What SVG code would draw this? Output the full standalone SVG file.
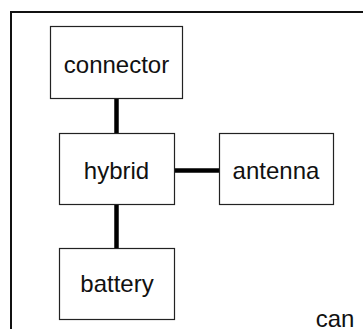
<svg xmlns="http://www.w3.org/2000/svg" width="363" height="329" viewBox="0 0 363 329">
<style>
.box{fill:#fff;stroke:#222;stroke-width:1.2}
.lbl{font-family:"Liberation Sans",Arial,sans-serif;font-size:24px;fill:#111;text-anchor:middle}
.wire{stroke:#000;stroke-width:4.5;fill:none}
</style>
<rect width="363" height="329" fill="#fff"/>
<g id="can">
<rect x="11" y="12" width="400" height="400" fill="none" stroke="#111" stroke-width="2"/>
<text class="lbl" x="335" y="327">can</text>
</g>
<g id="connectors">
<line class="wire" x1="116.5" y1="99" x2="116.5" y2="133"/>
<line class="wire" x1="116.5" y1="204" x2="116.5" y2="248"/>
<line class="wire" x1="175" y1="170.5" x2="219" y2="170.5"/>
</g>
<g id="connector">
<rect class="box" x="50.5" y="26.5" width="132" height="72"/>
<text class="lbl" x="116.5" y="73">connector</text>
</g>
<g id="hybrid">
<rect class="box" x="59.5" y="133.5" width="115" height="71"/>
<text class="lbl" x="116.5" y="179">hybrid</text>
</g>
<g id="antenna">
<rect class="box" x="219.5" y="133.5" width="114" height="71"/>
<text class="lbl" x="276" y="179">antenna</text>
</g>
<g id="battery">
<rect class="box" x="59.5" y="248.5" width="115" height="71"/>
<text class="lbl" x="117" y="292">battery</text>
</g>
</svg>
